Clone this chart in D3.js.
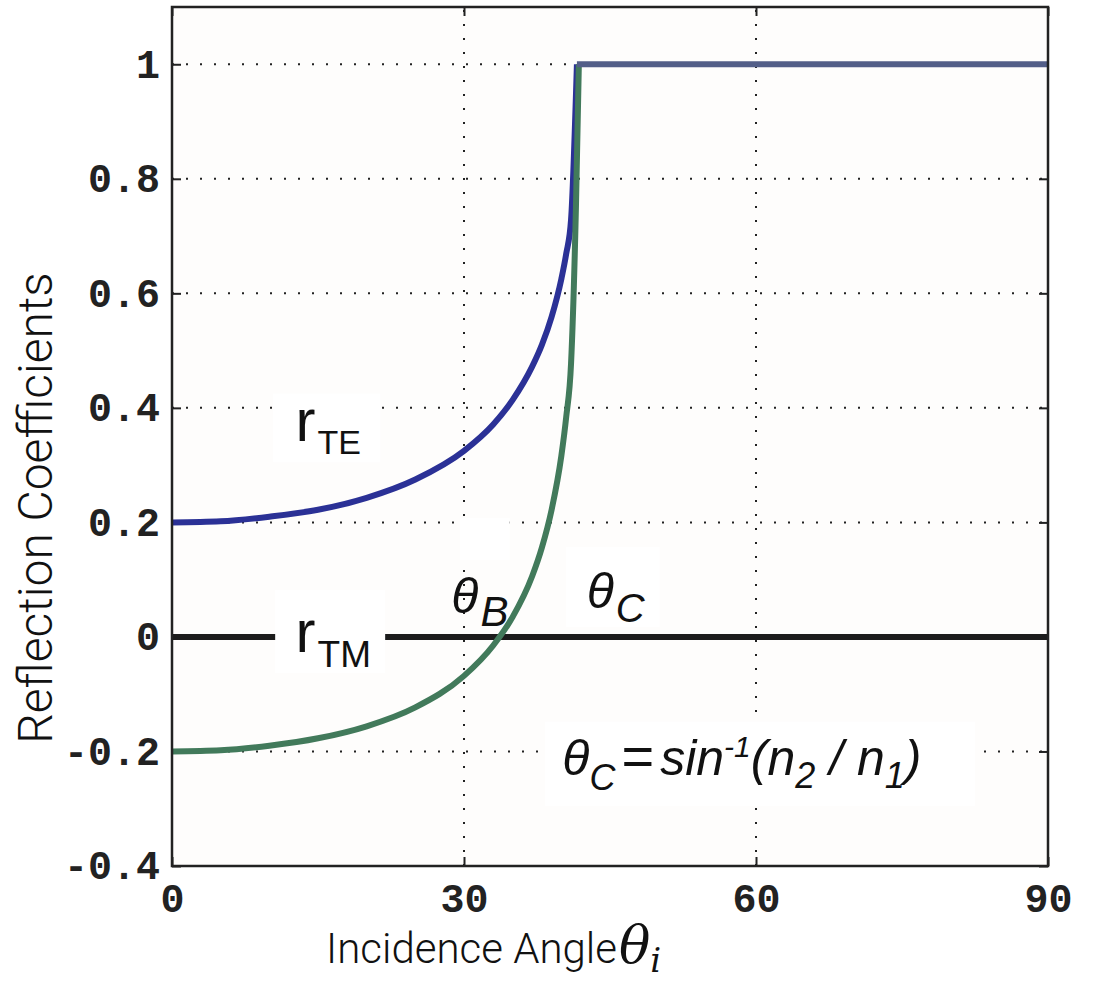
<!DOCTYPE html>
<html>
<head>
<meta charset="utf-8">
<script src="https://cdn.jsdelivr.net/npm/d3@7"></script>
<style>
  body { margin: 0; background: #fff; }
</style>
</head>
<body>
<div id="chart"></div>
<script>
// values (n1 = 1.5 into n2 = 1)
const teAngles = [0, 5, 10, 15, 20, 25, 30, 33, 35, 37, 38, 39, 40, 40.5, 41, 41.6];
const teValues = [0.200, 0.202, 0.210, 0.222, 0.243, 0.275, 0.325, 0.371, 0.414, 0.472, 0.510, 0.559, 0.625, 0.669, 0.729, 1.0];

const tmAngles = [0, 5, 10, 15, 20, 25, 30, 33, 35, 37, 38, 39, 40, 40.5, 41, 41.5, 41.8];
const tmValues = [-0.200, -0.198, -0.190, -0.177, -0.156, -0.123, -0.068, -0.015, 0.035, 0.106, 0.156, 0.222, 0.316, 0.384, 0.478, 0.75, 1.0];

const tirAngles = [41.6, 90];
const tirValues = [1, 1];

const zeroAngles = [0, 90];
const zeroValues = [0, 0];

const xTicks = [0, 30, 60, 90];
const xTickLabels = ["0", "30", "60", "90"];
const yTicks = [-0.4, -0.2, 0, 0.2, 0.4, 0.6, 0.8, 1];
const yTickLabels = ["-0.4", "-0.2", "0", "0.2", "0.4", "0.6", "0.8", "1"];

const W = 1095, H = 992;
const MARGIN = { TOP: 7, LEFT: 172, RIGHT: 47, BOTTOM: 126 };
const WIDTH = W - MARGIN.LEFT - MARGIN.RIGHT;
const HEIGHT = H - MARGIN.TOP - MARGIN.BOTTOM;

const svg = d3.select("#chart").append("svg")
  .attr("width", W)
  .attr("height", H);

const g = svg.append("g")
  .attr("transform", `translate(${MARGIN.LEFT},${MARGIN.TOP})`);

const x = d3.scaleLinear().domain([0, 90]).range([0, WIDTH]);
const y = d3.scaleLinear().domain([-0.4, 1.1]).range([HEIGHT, 0]);

g.append("rect")
  .attr("width", WIDTH)
  .attr("height", HEIGHT)
  .attr("fill", "#fefdfc");

// dotted grid
const grid = g.append("g")
  .attr("stroke", "#222")
  .attr("stroke-width", 2)
  .attr("stroke-dasharray", "2,12");

grid.selectAll(".gx").data(xTicks).enter().append("line")
  .attr("x1", d => x(d)).attr("x2", d => x(d))
  .attr("y1", HEIGHT).attr("y2", 0);

grid.selectAll(".gy").data(yTicks).enter().append("line")
  .attr("x1", 0).attr("x2", WIDTH)
  .attr("y1", d => y(d)).attr("y2", d => y(d));

// axes with inward ticks
const tickFont = "'Liberation Mono', 'Courier New', monospace";

const xAxis = g.append("g")
  .attr("transform", `translate(0,${HEIGHT})`)
  .call(d3.axisBottom(x).tickValues(xTicks)
    .tickFormat((d, i) => xTickLabels[i])
    .tickSizeInner(-9).tickSizeOuter(0).tickPadding(18));

const yAxis = g.append("g")
  .call(d3.axisLeft(y).tickValues(yTicks)
    .tickFormat((d, i) => yTickLabels[i])
    .tickSizeInner(-9).tickSizeOuter(0).tickPadding(12));

g.append("g")
  .call(d3.axisTop(x).tickValues(xTicks).tickFormat("")
    .tickSizeInner(-9).tickSizeOuter(0));

g.append("g")
  .attr("transform", `translate(${WIDTH},0)`)
  .call(d3.axisRight(y).tickValues(yTicks).tickFormat("")
    .tickSizeInner(-9).tickSizeOuter(0));

g.selectAll(".domain").remove();
g.selectAll(".tick line").attr("stroke", "#222").attr("stroke-width", 2);

[xAxis, yAxis].forEach(a => a.selectAll(".tick text")
  .attr("font-family", tickFont)
  .attr("font-weight", "bold")
  .attr("font-size", 40)
  .attr("fill", "#222"));

// curves
const line = d3.line()
  .x(d => x(d[0]))
  .y(d => y(d[1]));

const zip = (a, b) => a.map((v, i) => [v, b[i]]);

g.append("path")
  .datum(zip(zeroAngles, zeroValues))
  .attr("d", line)
  .attr("fill", "none")
  .attr("stroke", "#1c1c1c")
  .attr("stroke-width", 6);

g.append("path")
  .datum(zip(teAngles, teValues))
  .attr("d", line.curve(d3.curveMonotoneX))
  .attr("fill", "none")
  .attr("stroke", "#2b3196")
  .attr("stroke-width", 6);

g.append("path")
  .datum(zip(tmAngles, tmValues))
  .attr("d", line.curve(d3.curveMonotoneX))
  .attr("fill", "none")
  .attr("stroke", "#427a5b")
  .attr("stroke-width", 6);

g.append("path")
  .datum(zip(tirAngles, tirValues))
  .attr("d", line.curve(d3.curveLinear))
  .attr("fill", "none")
  .attr("stroke", "#535e88")
  .attr("stroke-width", 6);

// frame
g.append("rect")
  .attr("width", WIDTH)
  .attr("height", HEIGHT)
  .attr("fill", "none")
  .attr("stroke", "#222")
  .attr("stroke-width", 2.5);

// annotation boxes (data coordinates)
const boxes = [
  [10.4, 21.4, 0.425, 0.305],
  [10.6, 21.9, 0.082, -0.063],
  [29.6, 34.7, 0.208, 0.134],
  [40.5, 50.1, 0.157, 0.017],
  [38.3, 82.5, -0.148, -0.295]
];
g.selectAll(".box").data(boxes).enter().append("rect")
  .attr("x", d => x(d[0]))
  .attr("y", d => y(d[2]))
  .attr("width", d => x(d[1]) - x(d[0]))
  .attr("height", d => y(d[3]) - y(d[2]))
  .attr("fill", "#fff");

const sans = "'Liberation Sans', Arial, sans-serif";

function subLabel(ax, ay, main, sub, mainSize, subSize, italic, dy) {
  const t = g.append("text")
    .attr("x", x(ax)).attr("y", y(ay))
    .attr("font-family", sans)
    .attr("font-style", italic ? "italic" : "normal")
    .attr("fill", "#111");
  t.append("tspan").attr("font-size", mainSize).text(main);
  t.append("tspan").attr("font-size", subSize).attr("dx", 2).attr("dy", dy).text(sub);
}

subLabel(12.7, 0.342, "r", "TE", 60, 34, false, 13);
subLabel(12.7, -0.026, "r", "TM", 60, 37, false, 15);
subLabel(28.7, 0.042, "θ", "B", 50, 42, true, 13);
subLabel(42.6, 0.051, "θ", "C", 50, 40, true, 14);

// formula
const f = g.append("text")
  .attr("x", x(40.1)).attr("y", y(-0.241))
  .attr("font-family", sans)
  .attr("font-style", "italic")
  .attr("font-size", 50)
  .attr("fill", "#111");
f.append("tspan").text("θ");
f.append("tspan").attr("font-size", 36).attr("dy", 15).text("C");
f.append("tspan").attr("dy", -15).attr("dx", 6).attr("font-style", "normal").attr("font-size", 56).text("=");
f.append("tspan").attr("dx", 6).text("sin");
f.append("tspan").attr("font-size", 30).attr("dy", -18).text("-1");
f.append("tspan").attr("dy", 18).text("(n");
f.append("tspan").attr("font-size", 36).attr("dy", 13).text("2");
f.append("tspan").attr("dy", -13).text(" / n");
f.append("tspan").attr("font-size", 36).attr("dy", 13).text("1");
f.append("tspan").attr("dy", -13).text(")");

// axis titles
const xt = svg.append("text")
  .attr("x", 326).attr("y", 963)
  .attr("font-family", "Roboto, sans-serif")
  .attr("font-weight", 300)
  .attr("font-size", 42)
  .attr("fill", "#111");
xt.append("tspan").text("Incidence Angle");
xt.append("tspan")
  .attr("font-family", "'DejaVu Serif', serif")
  .attr("font-style", "italic")
  .attr("font-size", 52)
  .attr("dx", 2)
  .text("θ");
xt.append("tspan")
  .attr("font-family", "'DejaVu Serif', serif")
  .attr("font-style", "italic")
  .attr("font-size", 34)
  .attr("dy", 9)
  .text("i");

svg.append("text")
  .attr("transform", "translate(52,508) rotate(-90)")
  .attr("text-anchor", "middle")
  .attr("font-family", "Roboto, sans-serif")
  .attr("font-weight", 300)
  .attr("font-size", 48)
  .attr("fill", "#111")
  .text("Reflection Coefficients");
</script>
</body>
</html>
